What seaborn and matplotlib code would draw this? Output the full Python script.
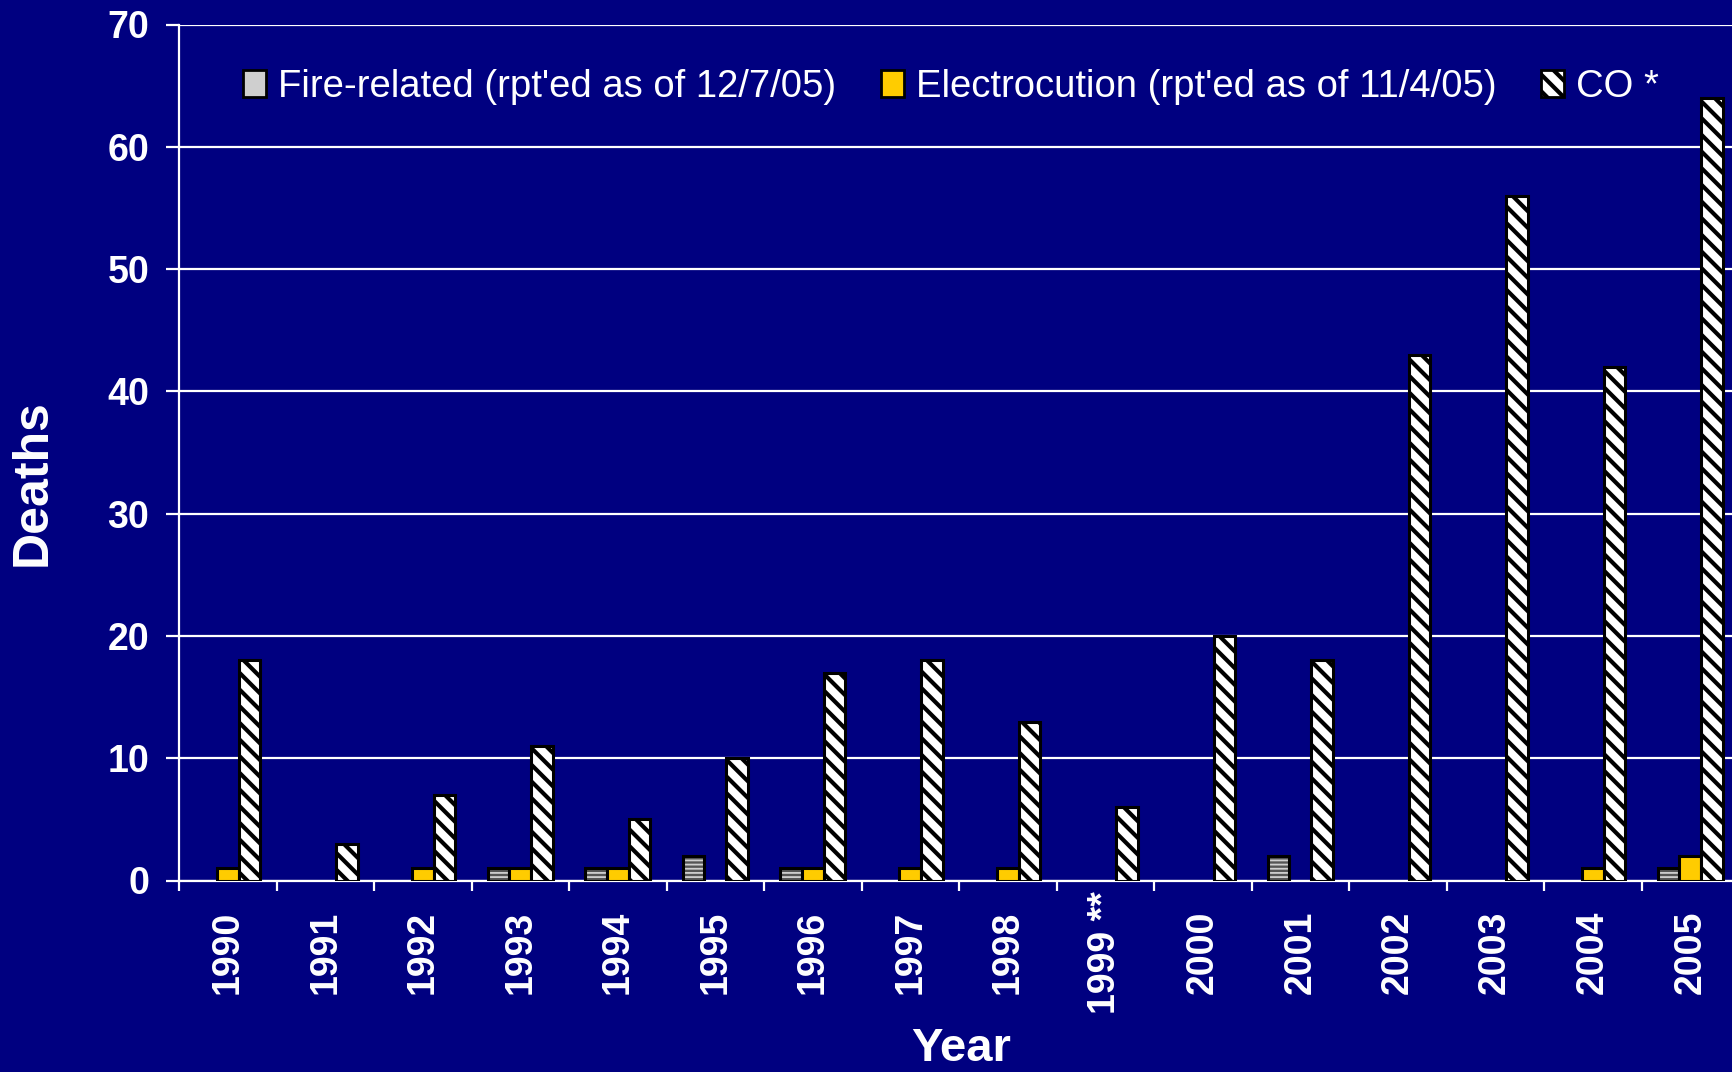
import matplotlib
matplotlib.use("Agg")
import numpy as np
import pandas as pd
import seaborn as sns
import matplotlib.pyplot as plt
import matplotlib.colors as mcolors
from matplotlib.patches import Patch

# ---------------- data ----------------
years = ['1990', '1991', '1992', '1993', '1994', '1995', '1996', '1997',
         '1998', '1999 **', '2000', '2001', '2002', '2003', '2004', '2005']
fire = [0, 0, 0, 1, 1, 2, 1, 0, 0, 0, 0, 2, 0, 0, 0, 1]
electrocution = [1, 0, 1, 1, 1, 0, 1, 1, 1, 0, 0, 0, 0, 0, 1, 2]
co = [18, 3, 7, 11, 5, 10, 17, 18, 13, 6, 20, 18, 43, 56, 42, 64]
series = ["Fire-related (rpt'ed as of 12/7/05)",
          "Electrocution (rpt'ed as of 11/4/05)",
          "CO *"]
yticks = [0, 10, 20, 30, 40, 50, 60, 70]

df = pd.DataFrame({
    'Year': years * 3,
    'Deaths': fire + electrocution + co,
    'Series': [s for s in series for _ in years],
})

# ---------------- style ----------------
NAVY = '#000080'
sns.set_theme(style='white')
plt.rcParams['font.family'] = ['Liberation Sans', 'DejaVu Sans']
plt.rcParams['hatch.linewidth'] = 3.0

styles = [
    dict(face='#555555', hatch='----', hcolor='#cfcfcf', hlw=1.3),
    dict(face='#ffcc00', hatch='', hcolor='black', hlw=1.0),
    dict(face='white', hatch='\\\\', hcolor='black', hlw=3.0),
]


def apply_style(p, st):
    p.set_facecolor(st['face'])
    p.set_edgecolor('black')
    p.set_linewidth(2.2)
    p.set_hatch(st['hatch'] if st['hatch'] else None)
    p._hatch_color = mcolors.to_rgba(st['hcolor'])
    if hasattr(p, 'set_hatch_linewidth'):
        p.set_hatch_linewidth(st['hlw'])


W, H = 1732, 1072
fig = plt.figure(figsize=(W / 100, H / 100), dpi=100)
fig.patch.set_facecolor(NAVY)
ax = fig.add_axes([179 / W, 1 - 880.5 / H, 1560 / W, 856 / H])
ax.set_facecolor(NAVY)

sns.barplot(data=df, x='Year', y='Deaths', hue='Series', hue_order=series,
            order=years, width=0.665, errorbar=None, legend=False, ax=ax,
            zorder=3)

for cont, st in zip(ax.containers, styles):
    for p in cont.patches:
        apply_style(p, st)
        if p.get_height() == 0:
            p.set_visible(False)

ax.set_xlim(-0.5, len(years) - 0.5)
ax.set_ylim(0, 70)
ax.set_yticks(yticks)
ax.set_yticklabels([str(v) for v in yticks], fontsize=27, fontweight='bold',
                   color='white')
ax.set_xticks(range(len(years)))
ax.set_xticklabels(years, rotation=90, fontsize=27, fontweight='bold',
                   color='white', va='center')

ax.grid(axis='y', color='white', linewidth=1.6)
ax.grid(axis='x', visible=False)
ax.set_axisbelow(True)

for s in ['top', 'right']:
    ax.spines[s].set_visible(False)
for s in ['left', 'bottom']:
    ax.spines[s].set_color('white')
    ax.spines[s].set_linewidth(1.6)

ax.tick_params(axis='y', direction='out', length=9.4, width=1.6,
               color='white', pad=12, left=True)
# x ticks at category boundaries (as in the original) via minor ticks
ax.set_xticks(np.arange(-0.5, len(years), 1.0), minor=True)
ax.tick_params(axis='x', which='minor', direction='out', length=7.5,
               width=1.6, color='white', bottom=True)
ax.tick_params(axis='x', which='major', length=0, pad=52)

ax.set_ylabel('Deaths', fontsize=36, fontweight='bold', color='white')
ax.yaxis.label.set_va('center')
ax.yaxis.set_label_coords((33 - 179) / 1560, (880.5 - 483) / 856)
ax.set_xlabel('Year', fontsize=34, fontweight='bold', color='white')
ax.xaxis.label.set_va('baseline')
ax.xaxis.set_label_coords((961 - 179) / 1560, (880.5 - 1061) / 856)

handles = []
for lab, st in zip(series, styles):
    h = Patch(label=lab)
    apply_style(h, st)
    h.set_linewidth(2.0)
    handles.append(h)

leg = ax.legend(handles=handles, ncol=3, loc='center',
                bbox_to_anchor=(951 / W, 1 - 87 / H),
                bbox_transform=fig.transFigure, frameon=False,
                fontsize=27.5, handlelength=0.6, handleheight=0.72,
                handletextpad=0.31, columnspacing=1.18, borderpad=0,
                borderaxespad=0, labelcolor='white')

fig.savefig('out.png', dpi=100, facecolor=NAVY)
